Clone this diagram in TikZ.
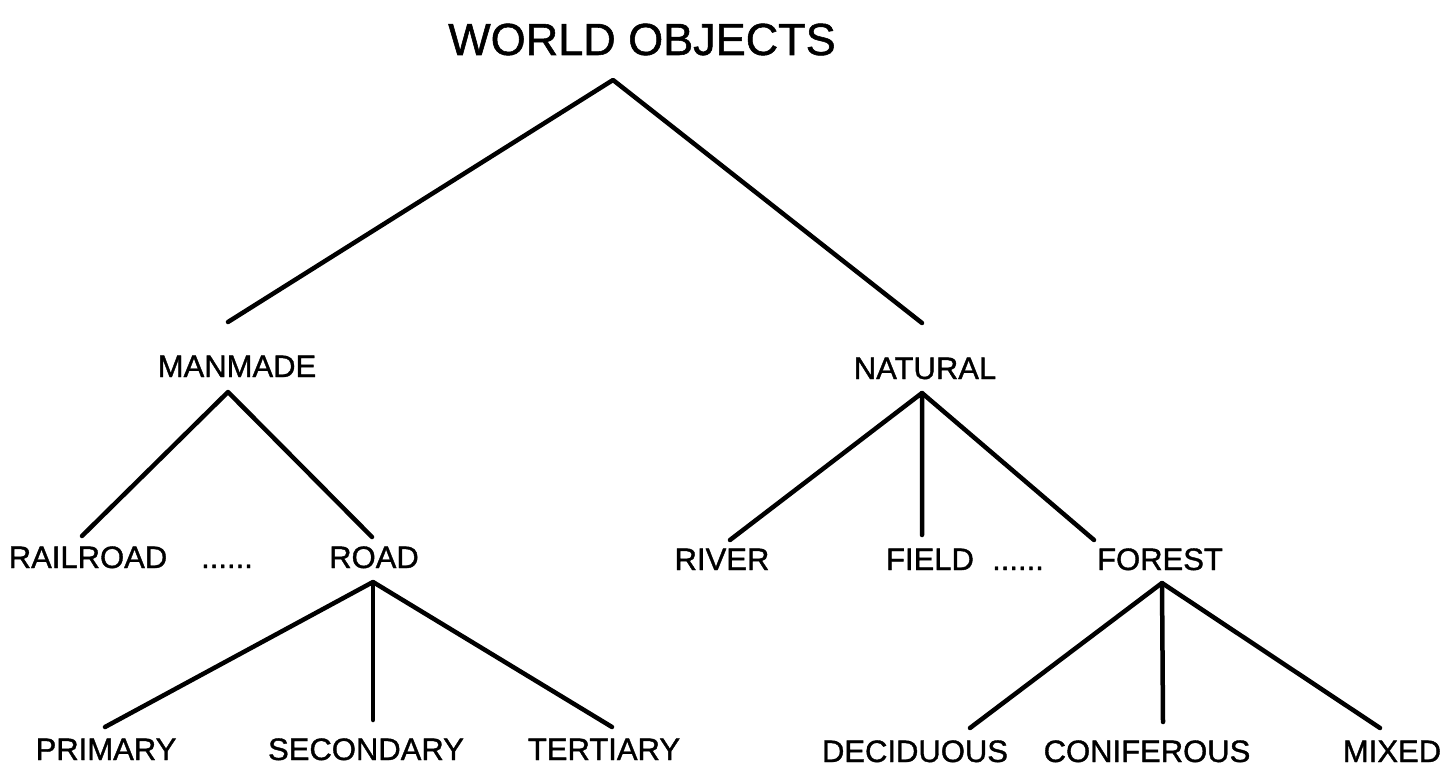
\documentclass[tikz,border=0pt]{standalone}
\usepackage{fontspec}
\setmainfont{Liberation Sans}[RawFeature={embolden=1.2}]
\usetikzlibrary{calc}
\tikzset{
  lbl/.style={anchor=base, inner sep=0pt, font=\fontsize{31}{36}\selectfont},
  ttl/.style={anchor=base, inner sep=0pt, font=\fontsize{45}{52}\selectfont},
  branch/.style={line width=4.5pt, line cap=round, line join=round},
}
\begin{document}
\begin{tikzpicture}[x=1pt, y=-1pt]
\useasboundingbox (0,0) rectangle (1456,770);
% nodes (base points)
\node[ttl] (world) at (642,55) {WORLD OBJECTS};
\node[lbl] (manmade) at (237,377) {MANMADE};
\node[lbl] (natural) at (925,379) {NATURAL};
\node[lbl] (railroad) at (88,568) {RAILROAD};
\node[lbl] (dotsA) at (227,568) {......};
\node[lbl] (road) at (374,568) {ROAD};
\node[lbl] (river) at (722,570) {RIVER};
\node[lbl] (field) at (930,570) {FIELD};
\node[lbl] (dotsB) at (1018,570) {......};
\node[lbl] (forest) at (1160,570) {FOREST};
\node[lbl] (primary) at (106,760) {PRIMARY};
\node[lbl] (secondary) at (366,760) {SECONDARY};
\node[lbl] (tertiary) at (604,760) {TERTIARY};
\node[lbl] (deciduous) at (915,762) {DECIDUOUS};
\node[lbl] (coniferous) at (1147,762) {CONIFEROUS};
\node[lbl] (mixed) at (1392,762) {MIXED};
% connectors
\draw[branch] ($(manmade.base)+(-9,-55)$) -- ($(world.base)+(-29,25)$) -- ($(natural.base)+(-3,-56)$);
\draw[branch] ($(railroad.base)+(-6,-32)$) -- ($(manmade.base)+(-9,15)$) -- ($(road.base)+(-2,-31)$);
\draw[branch] ($(river.base)+(8,-30)$) -- ($(natural.base)+(-3,14)$) -- ($(field.base)+(-8,-35)$);
\draw[branch] ($(natural.base)+(-3,14)$) -- ($(forest.base)+(-66,-30)$);
\draw[branch] ($(primary.base)+(-1,-33)$) -- ($(road.base)+(-1,14)$) -- ($(tertiary.base)+(8,-33)$);
\draw[branch] ($(road.base)+(-1,14)$) -- ($(secondary.base)+(7,-40)$);
\draw[branch] ($(deciduous.base)+(55,-34)$) -- ($(forest.base)+(2,13)$) -- ($(mixed.base)+(-12,-34)$);
\draw[branch] ($(forest.base)+(2,13)$) -- ($(coniferous.base)+(16,-40)$);
\end{tikzpicture}
\end{document}
